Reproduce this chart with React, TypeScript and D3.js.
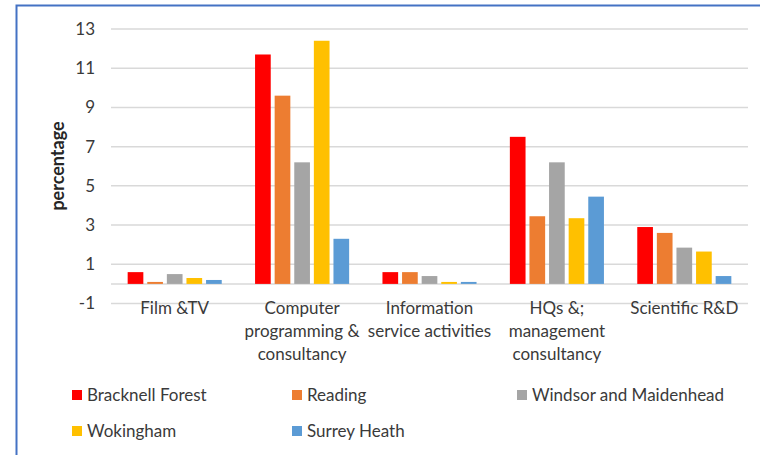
import React from "react";
import * as d3 from "d3";

const categories: string[][] = [
  ["Film &TV"],
  ["Computer", "programming &", "consultancy"],
  ["Information", "service activities"],
  ["HQs &;", "management", "consultancy"],
  ["Scientific R&D"],
];
const seriesNames = ["Bracknell Forest", "Reading", "Windsor and Maidenhead", "Wokingham", "Surrey Heath"];
const seriesColors = ["#FF0000", "#ED7D31", "#A5A5A5", "#FFC000", "#5B9BD5"];
const bracknellForest = [0.6, 11.7, 0.6, 7.5, 2.9];
const reading = [0.1, 9.6, 0.6, 3.45, 2.6];
const windsorMaidenhead = [0.5, 6.2, 0.4, 6.2, 1.85];
const wokingham = [0.3, 12.4, 0.1, 3.35, 1.65];
const surreyHeath = [0.2, 2.3, 0.1, 4.45, 0.4];
const yTicks = [-1, 1, 3, 5, 7, 9, 11, 13];

const seriesValues = [bracknellForest, reading, windsorMaidenhead, wokingham, surreyHeath];

const W = 760;
const H = 455;
const FONT = "Lato, 'Open Sans', sans-serif";
const TEXT = "#3a3a3a";

export default function App() {
  const catKeys = categories.map((c) => c.join(" "));
  const x0 = d3.scaleBand<string>().domain(catKeys).range([111, 748]).paddingInner(0).paddingOuter(0);
  const x1 = d3
    .scaleBand<string>()
    .domain(seriesNames)
    .range([0, x0.bandwidth()])
    .paddingInner(0.2)
    .paddingOuter(0.85);
  const y = d3.scaleLinear().domain([-1, 13]).range([303.5, 29]);

  const legendPos = [
    { x: 72, y: 395 },
    { x: 292, y: 395 },
    { x: 517, y: 395 },
    { x: 72, y: 431 },
    { x: 292, y: 431 },
  ];

  return (
    <svg
      width={W}
      height={H}
      style={{ position: "absolute", left: 0, top: 0, background: "#fff" }}
      fontFamily={FONT}
    >
      <rect x={0} y={0} width={W} height={H} fill="#fff" />
      <rect x={16.5} y={5.5} width={W + 10} height={H + 10} fill="none" stroke="#4472C4" strokeWidth={2} />

      {/* gridlines */}
      {yTicks.concat([0]).map((t) => (
        <line key={"g" + t} x1={111} x2={748} y1={y(t)} y2={y(t)} stroke="#D9D9D9" strokeWidth={1.5} />
      ))}
      {yTicks.map((t) => (
        <text key={"t" + t} x={95} y={y(t)} dy="0.35em" textAnchor="end" fontSize={17} fill={TEXT}>
          {t}
        </text>
      ))}
      <text
        transform={`translate(64,166) rotate(-90)`}
        textAnchor="middle"
        fontSize={18}
        fontWeight={700}
        fill="#262626"
      >
        percentage
      </text>

      {/* bars */}
      {catKeys.map((c, ci) => (
        <g key={c} transform={`translate(${x0(c)},0)`}>
          {seriesNames.map((s, si) => {
            const v = seriesValues[si][ci];
            return (
              <rect
                key={s}
                x={x1(s)}
                y={y(Math.max(0, v))}
                width={x1.bandwidth()}
                height={Math.abs(y(v) - y(0))}
                fill={seriesColors[si]}
              />
            );
          })}
        </g>
      ))}

      {/* category labels */}
      {categories.map((lines, ci) => (
        <text
          key={"c" + ci}
          x={(x0(catKeys[ci]) as number) + x0.bandwidth() / 2}
          y={308}
          textAnchor="middle"
          fontSize={17}
          fill={TEXT}
        >
          {lines.map((l, li) => (
            <tspan key={li} x={(x0(catKeys[ci]) as number) + x0.bandwidth() / 2} dy={li === 0 ? "0.35em" : 23}>
              {l}
            </tspan>
          ))}
        </text>
      ))}

      {/* legend */}
      {seriesNames.map((s, i) => (
        <g key={"l" + s} transform={`translate(${legendPos[i].x},${legendPos[i].y})`}>
          <rect x={0} y={-5} width={10} height={10} fill={seriesColors[i]} />
          <text x={15} y={0} dy="0.35em" fontSize={17} fill={TEXT}>
            {s}
          </text>
        </g>
      ))}
    </svg>
  );
}
